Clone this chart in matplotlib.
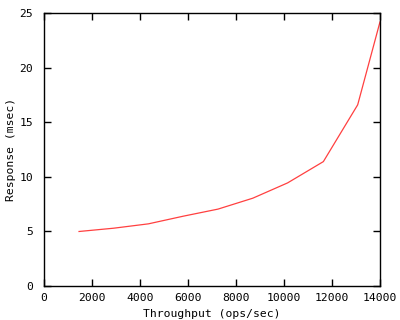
import numpy as np
from matplotlib import pyplot as plt

# throughput (ops/sec) vs response (msec)
throughput = [1460, 2900, 4350, 5800, 7250, 8700, 10150, 11640, 13070, 14000]
response = [5.0, 5.3, 5.7, 6.4, 7.05, 8.05, 9.45, 11.4, 16.6, 24.2]

plt.rcParams['font.family'] = 'DejaVu Sans Mono'
plt.rcParams['font.size'] = 8.2

fig = plt.figure(figsize=(4, 3.2), dpi=100)
ax = fig.add_axes([0.11, 0.106, 0.84, 0.853])
ax.plot(throughput, response, color='#ff4040', lw=0.9)

ax.set_xlim(0, 14000)
ax.set_ylim(0, 25)
ax.set_xticks(np.arange(0, 14001, 2000))
ax.set_yticks(np.arange(0, 26, 5))
ax.tick_params(direction='in', length=5, width=1, top=True, right=True, colors='black')
ax.tick_params(axis='x', pad=5)
ax.tick_params(axis='y', pad=8)
for s in ax.spines.values():
    s.set_linewidth(1)

ax.set_xlabel('Throughput (ops/sec)', labelpad=4)
ax.set_ylabel('Response (msec)', labelpad=2)
plt.savefig('out.png')
